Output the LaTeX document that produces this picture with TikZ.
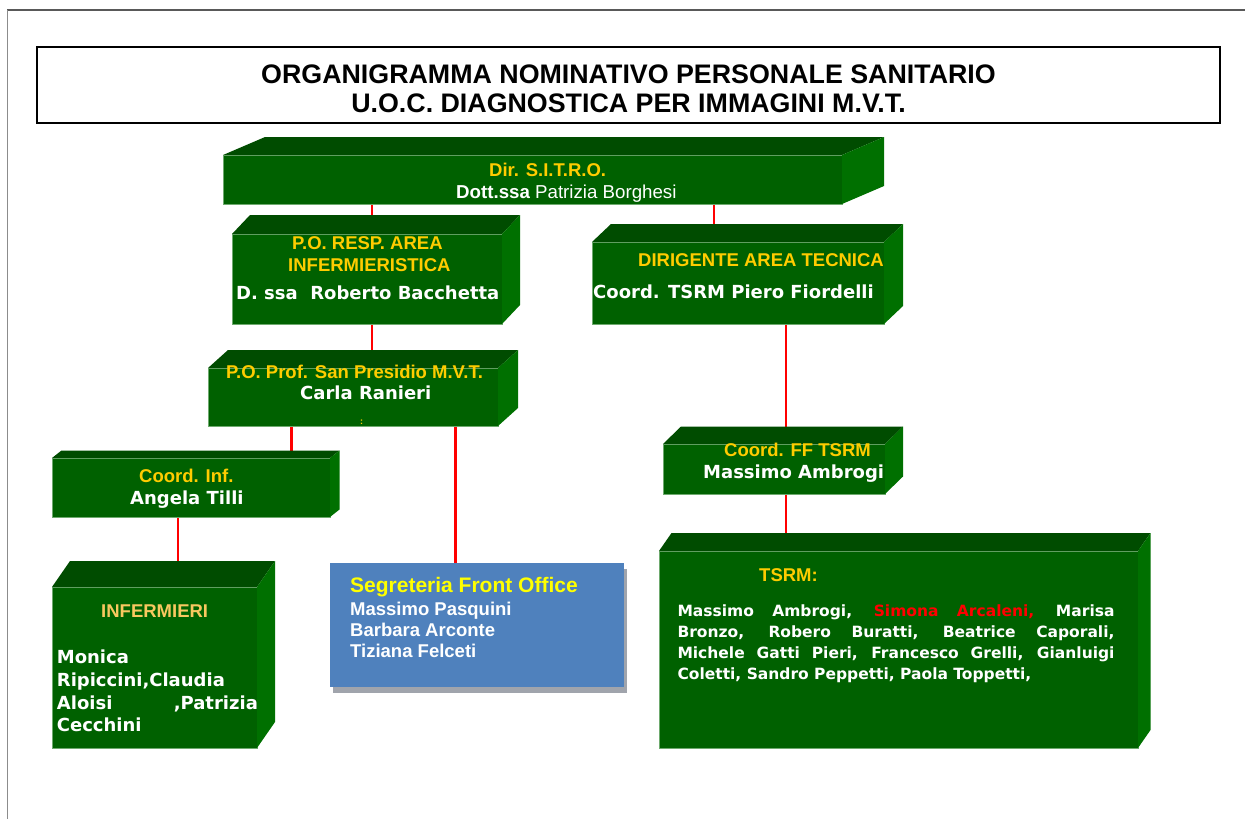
\documentclass[tikz,border=0pt]{standalone}
\usepackage{fontspec}
\setmainfont{Liberation Sans}
\newfontfamily\vfont{DejaVu Sans}
\usetikzlibrary{calc}
\pgfdeclarelayer{background}
\pgfsetlayers{background,main}
\definecolor{gfront}{RGB}{0,97,0}
\definecolor{gtop}{RGB}{0,76,0}
\definecolor{gright}{RGB}{0,112,0}
\definecolor{gedge}{RGB}{110,170,110}
\definecolor{gyellow}{RGB}{255,204,0}
\definecolor{lorange}{RGB}{248,200,96}
\definecolor{byellow}{RGB}{255,255,0}
\definecolor{sblue}{RGB}{79,129,189}
\definecolor{sshadow}{RGB}{160,164,172}
\tikzset{
 front/.style={rectangle, fill=gfront, draw=gedge, line width=0.5pt, inner sep=0pt, outer sep=0pt},
 topface/.style={fill=gtop},
 rightface/.style={fill=gright},
 conn/.style={draw=red, line width=2.6pt},
 hdr/.style={anchor=base west, inner sep=0pt, text=gyellow, font=\bfseries\fontsize{18.5}{21}\selectfont},
 wname/.style={anchor=base west, inner sep=0pt, text=white, font=\vfont\bfseries\fontsize{18}{21}\selectfont},
 sname/.style={anchor=base west, inner sep=0pt, text=white, font=\bfseries\fontsize{18.5}{21}\selectfont},
 pname/.style={anchor=base west, inner sep=0pt, text=white, font=\vfont\bfseries\fontsize{15.5}{19}\selectfont},
 ttl/.style={anchor=base, inner sep=0pt, font=\bfseries\fontsize{26.8}{30}\selectfont},
}
\newcommand{\cuboid}[7]{%
  \node[front, minimum width={(#4)-(#2)}, minimum height={(#5)-(#3)}] (#1) at ({((#2)+(#4))/2},{((#3)+(#5))/2}) {};
  \fill[topface] (#1.north west) -- ([shift={(#6,#7)}]#1.north west) -- ([shift={(#6,#7)}]#1.north east) -- (#1.north east) -- cycle;
  \fill[rightface] (#1.north east) -- ([shift={(#6,#7)}]#1.north east) -- ([shift={(#6,#7)}]#1.south east) -- (#1.south east) -- cycle;
}
\begin{document}
\begin{tikzpicture}[x=1pt,y=-1pt]
\useasboundingbox (0,0) rectangle (1245,819);
% page border
\draw[draw=black!65, line width=1.5pt] (7,10) -- (1245,10);
\draw[draw=black!45, line width=1pt] (7,10) -- (7,819);
% title
\node[draw=black, line width=1.4pt, minimum width=1183, minimum height=76, inner sep=0pt] (title) at (628.5,85) {};
\node[ttl] (t1) at (628.5,83.6) {ORGANIGRAMMA NOMINATIVO PERSONALE SANITARIO};
\node[ttl] (t2) at (628.5,112.6) {U.O.C. DIAGNOSTICA PER IMMAGINI M.V.T.};
% boxes
\cuboid{dir}{223}{155}{842}{204}{42}{-18}
\cuboid{poresp}{232}{234}{502}{324}{18}{-19}
\cuboid{dirig}{592}{242}{884}{324}{19}{-18}
\cuboid{poprof}{208}{368}{498}{426}{20}{-18}
\cuboid{coordinf}{52}{458}{330}{517}{9.5}{-7.5}
\cuboid{inferm}{52}{587}{257}{748}{18}{-26}
\cuboid{coordff}{663}{444}{885}{494}{18}{-17.5}
\cuboid{tsrm}{659}{551}{1138}{748}{12.5}{-18}
\fill[sshadow] (333,569) rectangle (627,693);
\node[rectangle, fill=sblue, inner sep=0pt, minimum width=294, minimum height=124] (segr) at (477,625) {};
% connectors
\coordinate (xa) at (372,0);
\coordinate (xb) at (714,0);
\coordinate (xc) at (291.7,0);
\coordinate (xd) at (455.7,0);
\coordinate (xe) at (178,0);
\coordinate (xf) at (786,0);
\begin{pgfonlayer}{background}
\draw[conn] (dir.south -| xa) -- (poresp.north -| xa);
\draw[conn] (dir.south -| xb) -- (dirig.north -| xb);
\draw[conn] (poresp.south -| xa) -- (poprof.north -| xa);
\draw[conn] (poprof.south -| xc) -- (coordinf.north -| xc);
\draw[conn] (poprof.south -| xd) -- (segr.north -| xd);
\draw[conn] (coordinf.south -| xe) -- (inferm.north -| xe);
\draw[conn] (dirig.south -| xf) -- (coordff.north -| xf);
\draw[conn] (coordff.south -| xf) -- (tsrm.north -| xf);
\end{pgfonlayer}
% texts
\node[hdr] (dirh) at (489,176.5) {Dir. S.I.T.R.O.};
\node[anchor=base west, inner sep=0pt, text=white, font=\fontsize{18.7}{21}\selectfont] (dirn) at (456,198.2) {\bfseries Dott.ssa\mdseries{} Patrizia Borghesi};
\node[hdr] (poh1) at (292,249.8) {P.O. RESP. AREA};
\node[hdr] (poh2) at (288,271.5) {INFERMIERISTICA};
\node[wname] (pon) at (236,299.5) {D. ssa\ \ Roberto Bacchetta};
\node[hdr] (dih) at (638,266.5) {DIRIGENTE AREA TECNICA};
\node[wname] (din) at (593,298.5) {Coord. TSRM Piero Fiordelli};
\node[hdr] (pph) at (226,378.2) {P.O. Prof. San Presidio M.V.T.};
\node[wname] (ppn) at (300,399.5) {Carla Ranieri};
\node[inner sep=0pt, text=gyellow, font=\bfseries\fontsize{9}{10}\selectfont] (ppc) at (361.7,422) {:};
\node[hdr] (cih) at (139,482.5) {Coord. Inf.};
\node[wname] (cin) at (130,504.5) {Angela Tilli};
\node[hdr, text=lorange] (inh) at (101,617.5) {INFERMIERI};
\node[wname] (in1) at (56.7,663.8) {Monica};
\node[wname] (in2) at (56.7,686.5) {Ripiccini,Claudia};
\node[wname] (in3) at (56.7,709.2) {\makebox[201pt][s]{Aloisi ,Patrizia}};
\node[wname] (in4) at (56.7,731.5) {Cecchini};
\node[anchor=base west, inner sep=0pt, text=byellow, font=\bfseries\fontsize{21}{24}\selectfont] (sgh) at (350,592.5) {Segreteria Front Office};
\node[sname] (sg1) at (350,615.8) {Massimo Pasquini};
\node[sname] (sg2) at (350,636.5) {Barbara Arconte};
\node[sname] (sg3) at (350,657.2) {Tiziana Felceti};
\node[hdr] (ffh) at (724,456.5) {Coord. FF TSRM};
\node[wname] (ffn) at (703,478.8) {Massimo Ambrogi};
\node[hdr] (tsh) at (759,581.5) {TSRM:};
\node[pname] (ts1) at (677.3,616.4) {\makebox[437pt][s]{Massimo Ambrogi, \textcolor{red}{Simona Arcaleni,} Marisa}};
\node[pname] (ts2) at (677.3,637.4) {\makebox[437pt][s]{Bronzo, Robero Buratti, Beatrice Caporali,}};
\node[pname] (ts3) at (677.3,658) {\makebox[437pt][s]{Michele Gatti Pieri, Francesco Grelli, Gianluigi}};
\node[pname] (ts4) at (677.3,679.7) {Coletti, Sandro Peppetti, Paola Toppetti,};
\end{tikzpicture}
\end{document}
